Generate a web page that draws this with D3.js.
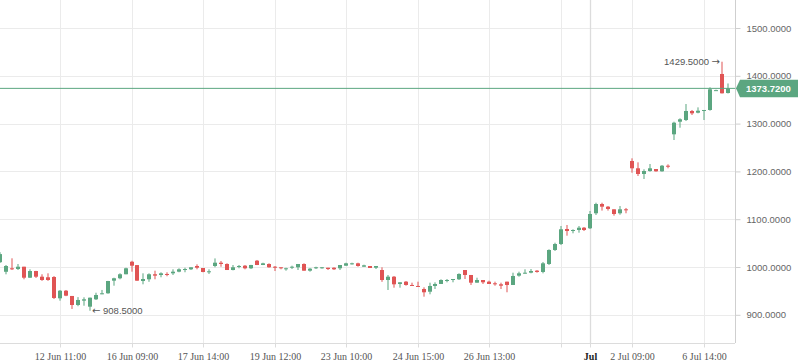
<!DOCTYPE html>
<html><head><meta charset="utf-8">
<script src="https://cdn.jsdelivr.net/npm/d3@7/dist/d3.min.js"></script>
<style>html,body{margin:0;padding:0;background:#fff;overflow:hidden}svg{display:block}</style>
</head><body>
<svg id="chart" width="798" height="363"></svg>
<script>
// ---- data ----
const opens = [1010,990,997.3,995.8,1000.6,977.6,991.6,979.7,978.5,979.1,
934.5,950.4,939.4,920.5,929.6,917,932.4,943,945,971.4,
976.4,984.8,1011,1004,970.7,974.3,984.8,983.3,985.4,986.8,
990.2,993.7,995.2,1002.1,997.9,989,1002.1,1009,1006.3,993.7,
1000.6,1002.7,997.3,1013.2,1004.2,1006.3,1000.6,999.4,995.8,998.5,
999.4,1006.3,992.3,997.3,997.3,998.5,998.5,997.3,1002.7,1005.6,
1007.7,1000.6,1002.1,998.5,993.7,972.8,979.7,964.5,969.3,962.4,
960.3,954,948.3,960.3,964.5,970.7,972.8,974.3,993.7,983.3,
967.2,972.8,969.3,965.9,963.8,969.3,962.4,981.9,986.1,988.1,
992.3,989.6,1006.3,1035.6,1048.1,1079.5,1075.3,1077.4,1082.2,1081,
1112.4,1131.8,1126.2,1120.7,1112.4,1120.7,1221.8,1206.5,1194.6,1200.8,
1205,1200.2,1211.9,1277.6,1304,1307.5,1326.4,1322.8,1326.4,1328.5,
1370,1403.8,1364];
const highs = [1031,1004.2,1018.2,1006.3,1000.6,995.2,992,984.8,986.8,981,
951.9,951.9,939.4,937,936.6,936,946.2,952,971,977.6,
986.9,998.5,1013,1004,986.8,986.8,992.3,988.9,988.9,995.2,
997.3,998.5,999.4,1005.6,998,995.2,1018,1012.6,1007.7,1004.2,
1004.2,1004.2,1004.5,1014.7,1009,1007.7,1002.1,999.4,998.5,1002.7,
1006.3,1007.7,998,1000.6,1000,998.5,999.4,1004.2,1009,1009,
1009,1004.8,1002.1,1002.1,999.4,983.3,981.2,968,970.7,967.2,
969.3,957.5,967.2,968,974.3,974.9,974.9,986.8,993.7,983.3,
977.6,972.8,971.4,969.3,967.2,969.3,988.1,990.2,995.2,995.8,
993.7,1010.5,1037,1050.8,1085.8,1087.9,1078.9,1085.8,1083.7,1117.2,
1134.5,1134.5,1127.6,1120.7,1127.6,1123.5,1227.4,1219,1204.4,1215.5,
1205,1213.4,1214.8,1304,1311.1,1341,1328.5,1334,1328.5,1376,
1371,1429.5,1384];
const lows = [1008.4,984.7,993.7,993.7,974.3,977,977,971,971,933,
929.5,939,912.2,918,919,908.5,931,943,944,960.9,
974.3,984.8,990.2,971,963.8,969,974.3,978.5,980.6,983.3,
989,989,993.7,995.2,989,985.4,999.4,1000.6,993.7,993,
997.3,995.2,995.8,1004,1004,998.5,991.6,995.2,992.3,995.8,
993.7,992.3,990.2,995.8,996.5,993.7,993.7,993.7,1002.7,1005,
1000.6,1000.6,997.9,995.8,969,951.9,956.7,956.7,960.9,960.9,
958.8,937.9,942.9,954,964.5,968,968,972.8,974.9,962.4,
967.2,964.5,964.5,960.9,954,947.1,962.4,979.7,986.1,986.8,
988.1,986.8,1004.2,1033.5,1046,1065.5,1070.5,1071.8,1075.3,1079.5,
1108.8,1118,1118,1107.4,1109.4,1112.4,1197.3,1190.4,1184.1,1199.4,
1199.4,1199.4,1206.5,1265.7,1291.4,1305.4,1318,1321.5,1307.5,1327,
1369.5,1363,1363];
const closes = [1027,1002.1,995.2,1000.6,977.6,991.6,979.7,972.8,972.8,935.2,
950.4,940,920.5,931,932.4,935.8,941.4,945,970.7,976.4,
984.8,997.3,1002.7,971.4,974.9,984.8,981.9,986.8,983.3,990.2,
995.2,995.8,999.4,998.5,989.6,991,1009,1006.3,993.7,999.4,
1002.1,997.3,1004.2,1004.2,1007.7,999.4,998.5,997.3,997.3,1000.6,
1006.3,992.3,996.5,999.4,999.4,995.8,995.2,1004.2,1007.7,1007.7,
1002.1,1003.5,997.9,1002.1,972.8,979.7,963.8,968,962.4,960.9,
958.8,947.1,960.3,964.5,972.8,972.8,974.9,985.4,983.3,967.2,
972.8,968,964.5,963.8,960.9,962.4,981.2,986.8,988.1,991.6,
989.6,1007.7,1035.6,1048.1,1078.9,1075.3,1077.4,1082.2,1077.4,1110.9,
1131.8,1126.2,1121.4,1110.9,1120.7,1119.3,1206.5,1194.6,1200.8,1206.5,
1200.2,1211.9,1209.8,1301.9,1309,1326.4,1321.5,1327,1328.5,1371.8,
1370,1363.4,1373.72];
const xTickIndex = [10,22,34,46,58,70,82,94,99,106,118];
const xTickLabels = ["12 Jun 11:00","16 Jun 09:00","17 Jun 14:00","19 Jun 12:00","23 Jun 10:00","24 Jun 15:00","26 Jun 13:00","","Jul","2 Jul 09:00","6 Jul 14:00"];
const yTicks = [900,1000,1100,1200,1300,1400,1500];
const lastPrice = 1373.72;
const maxIndex = 121, maxValue = 1429.5;
const minIndex = 15, minValue = 908.5;

// ---- layout ----
const W = 798, H = 363, plotR = 735, plotB = 343;
const GREEN = "#5ba680", RED = "#e05454";
const n = opens.length;
const data = d3.range(n).map(i => ({i, o:opens[i], h:highs[i], l:lows[i], c:closes[i]}));

const svg = d3.select("#chart");
const step = 5.96;
const x = d3.scaleBand().domain(d3.range(n)).range([0.4 - step/2, 0.4 - step/2 + n*step]);
const cx = i => x(i) + x.bandwidth()/2;
const y = d3.scaleLinear().domain([841, 1558.6]).range([plotB, 0]);

svg.append("defs").append("clipPath").attr("id","clip")
  .append("rect").attr("x",0).attr("y",0).attr("width",plotR).attr("height",plotB);

// grid
const grid = svg.append("g");
grid.selectAll("line.h").data(yTicks).join("line")
  .attr("x1",0).attr("x2",plotR)
  .attr("y1",d=>Math.round(y(d))+0.5).attr("y2",d=>Math.round(y(d))+0.5)
  .attr("stroke","#ebebeb").attr("stroke-width",1);
grid.selectAll("line.v").data(xTickIndex).join("line")
  .attr("x1",d=>Math.round(cx(d))+0.5).attr("x2",d=>Math.round(cx(d))+0.5)
  .attr("y1",0).attr("y2",plotB)
  .attr("stroke",(d,k)=>xTickLabels[k]==="Jul" ? "#dcdcdc" : "#ebebeb")
  .attr("stroke-width",(d,k)=>xTickLabels[k]==="Jul" ? 1.3 : 1);

// axes
const yAxis = d3.axisRight(y).tickValues(yTicks).tickFormat(d3.format(".4f"))
  .tickSize(5).tickSizeOuter(0).tickPadding(6);
const gy = svg.append("g").attr("transform",`translate(${plotR+0.5},0)`).call(yAxis);
gy.select(".domain").attr("stroke","#cfcfcf").attr("d",`M0,0V${plotB}`);
gy.selectAll(".tick line").attr("stroke","#cfcfcf");
gy.selectAll(".tick text").attr("fill","#666").style("font-family","'Liberation Sans', Arial, sans-serif").style("font-size","9.5px");

const xAxis = d3.axisBottom(x).tickValues(xTickIndex)
  .tickFormat(d => xTickLabels[xTickIndex.indexOf(d)]).tickSize(4).tickSizeOuter(0).tickPadding(5);
const gx = svg.append("g").attr("transform",`translate(0,${plotB+0.5})`).call(xAxis);
gx.select(".domain").attr("stroke","#dcdcdc").attr("d",`M0,0H${plotR}`);
gx.selectAll(".tick").attr("transform", d => `translate(${Math.round(cx(d))+0.5},0)`);
gx.selectAll(".tick line").attr("stroke","#dcdcdc");
gx.selectAll(".tick text")
  .style("font-family","'Liberation Serif', 'Times New Roman', serif").style("font-size","10px")
  .style("font-weight", d => xTickLabels[xTickIndex.indexOf(d)]==="Jul" ? "bold" : "normal")
  .attr("fill", d => xTickLabels[xTickIndex.indexOf(d)]==="Jul" ? "#222" : "#555");

// candles
const cg = svg.append("g").attr("clip-path","url(#clip)");
const candle = cg.selectAll("g.c").data(data).join("g");
const col = d => d.c >= d.o ? GREEN : RED;
candle.append("rect")
  .attr("x", d => Math.round(cx(d.i)) - 0.5).attr("width", 1)
  .attr("y", d => y(d.h)).attr("height", d => Math.max(1, y(d.l) - y(d.h)))
  .attr("fill", col);
candle.append("rect")
  .attr("x", d => Math.round(cx(d.i)) - 2).attr("width", 4)
  .attr("y", d => y(Math.max(d.o,d.c))).attr("height", d => Math.max(1, Math.abs(y(d.o) - y(d.c))))
  .attr("fill", col);

// last price line
svg.append("line").attr("x1",0).attr("x2",plotR)
  .attr("y1",y(lastPrice)).attr("y2",y(lastPrice))
  .attr("stroke",GREEN).attr("stroke-width",1);

// annotations
const annFont = "'Liberation Sans', Arial, sans-serif";
const arrowFont = "'DejaVu Sans', sans-serif";
const maxT = svg.append("text").attr("x", Math.round(cx(maxIndex)) - 2).attr("y", y(maxValue) + 3.5)
  .attr("text-anchor","end").attr("fill","#555").style("font-family",annFont).style("font-size","9.5px");
maxT.append("tspan").text(d3.format(".4f")(maxValue) + " ");
maxT.append("tspan").style("font-family",arrowFont).style("font-size","10px").text("\u2192");
const minT = svg.append("text").attr("x", Math.round(cx(minIndex)) + 2).attr("y", y(minValue) + 3.5)
  .attr("text-anchor","start").attr("fill","#555").style("font-family",annFont).style("font-size","9.5px");
minT.append("tspan").style("font-family",arrowFont).style("font-size","10px").text("\u2190");
minT.append("tspan").text(" " + d3.format(".4f")(minValue));

// price label
const py = y(lastPrice);
svg.append("path")
  .attr("d", `M${plotR+1},${py} L${plotR+5},${py-8.5} L${W},${py-8.5} L${W},${py+9} L${plotR+5},${py+9} Z`)
  .attr("fill", GREEN);
svg.append("text").attr("x", plotR+11).attr("y", py+3.5)
  .attr("fill","#fff").style("font-family",annFont).style("font-size","9.5px").style("font-weight","bold")
  .text(d3.format(".4f")(lastPrice));
</script>
</body></html>
